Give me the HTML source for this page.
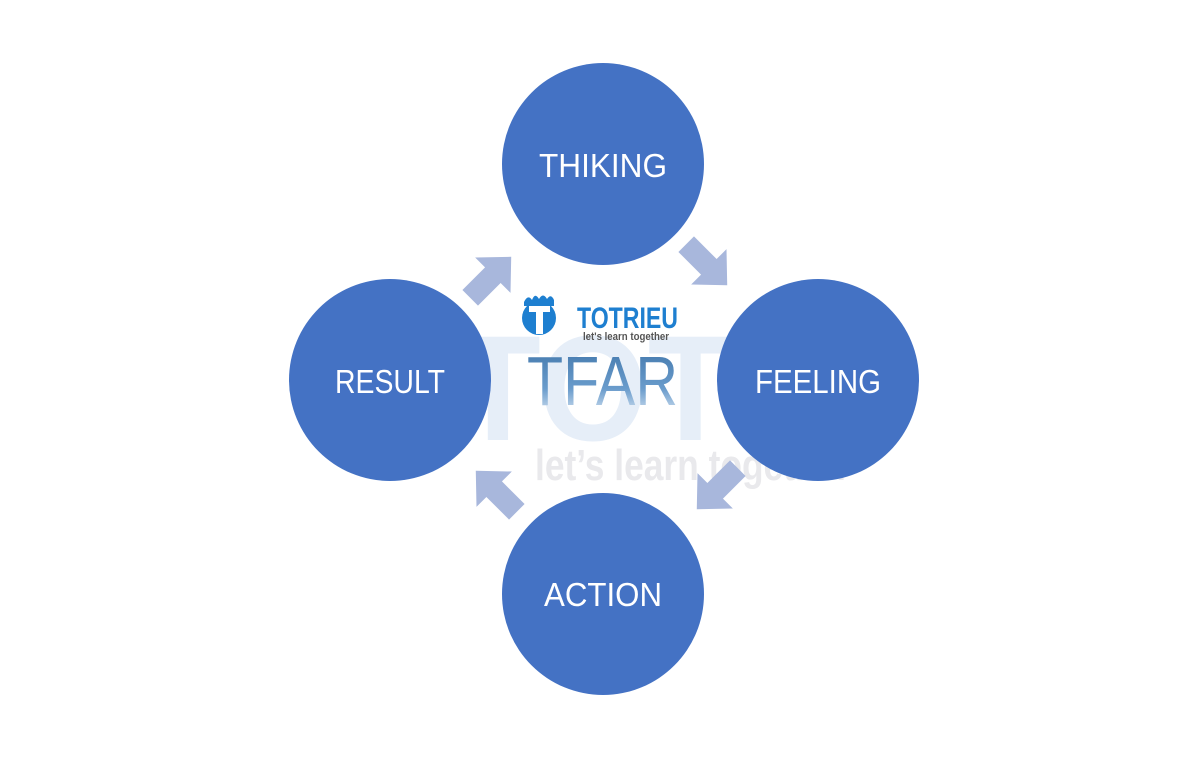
<!DOCTYPE html>
<html><head><meta charset="utf-8"><style>
html,body{margin:0;padding:0;background:#fff;}
svg{display:block;}
</style></head><body>
<svg width="1200" height="759" viewBox="0 0 1200 759" xmlns="http://www.w3.org/2000/svg">
<defs>
<polygon id="arr" points="-28,-11 4,-11 4,-25 30,0 4,25 4,11 -28,11" fill="#a8b7dc"/>
<linearGradient id="tg" x1="0" y1="0" x2="0" y2="1">
<stop offset="0" stop-color="#3f74a8"/><stop offset="0.6" stop-color="#6a9ccc"/><stop offset="1" stop-color="#e8f0f8"/>
</linearGradient>
</defs>
<rect width="1200" height="759" fill="#fff"/>
<!-- watermark -->
<text x="455" y="440" font-family="Liberation Sans, sans-serif" font-weight="bold" font-size="150" fill="#e6eef8" textLength="380" lengthAdjust="spacingAndGlyphs">TOTR</text>
<text x="535" y="480" font-family="Liberation Sans, sans-serif" font-weight="bold" font-size="44" fill="#e9e9ec" textLength="315" lengthAdjust="spacingAndGlyphs">let’s learn together</text>
<!-- arrows -->
<use href="#arr" transform="translate(490,278) rotate(-45)"/>
<use href="#arr" transform="translate(706,264) rotate(45)"/>
<use href="#arr" transform="translate(718,488) rotate(135)"/>
<use href="#arr" transform="translate(497,492) rotate(-135)"/>
<!-- circles -->
<g fill="#4472c4">
<circle cx="603" cy="164" r="101"/>
<circle cx="390" cy="380" r="101"/>
<circle cx="818" cy="380" r="101"/>
<circle cx="603" cy="594" r="101"/>
</g>
<g font-family="Liberation Sans, sans-serif" font-size="33" fill="#fff" text-anchor="middle">
<text x="603" y="177" textLength="128" lengthAdjust="spacingAndGlyphs">THIKING</text>
<text x="390" y="393" textLength="110" lengthAdjust="spacingAndGlyphs">RESULT</text>
<text x="818" y="393" textLength="126" lengthAdjust="spacingAndGlyphs">FEELING</text>
<text x="603" y="606" textLength="118" lengthAdjust="spacingAndGlyphs">ACTION</text>
</g>
<!-- logo -->
<circle cx="539" cy="318" r="17" fill="#1e7fd0"/>
<path d="M524,302 q4,-8 8,-2 q3,-8 7,-1 q4,-7 8,0 q4,-6 7,1 l0,6 l-30,0z" fill="#1e7fd0"/>
<rect x="529" y="306" width="21" height="6" fill="#fff"/>
<rect x="536" y="310" width="7" height="24" fill="#fff"/>
<text x="577" y="328" font-family="Liberation Sans, sans-serif" font-weight="bold" font-size="30" fill="#1e7fd0" textLength="101" lengthAdjust="spacingAndGlyphs">TOTRIEU</text>
<text x="583" y="340" font-family="Liberation Sans, sans-serif" font-weight="bold" font-size="11" fill="#555" textLength="86" lengthAdjust="spacingAndGlyphs">let's learn together</text>
<text x="527" y="405" font-family="Liberation Sans, sans-serif" font-size="70" fill="url(#tg)" textLength="151" lengthAdjust="spacingAndGlyphs">TFAR</text>
</svg>
</body></html>
